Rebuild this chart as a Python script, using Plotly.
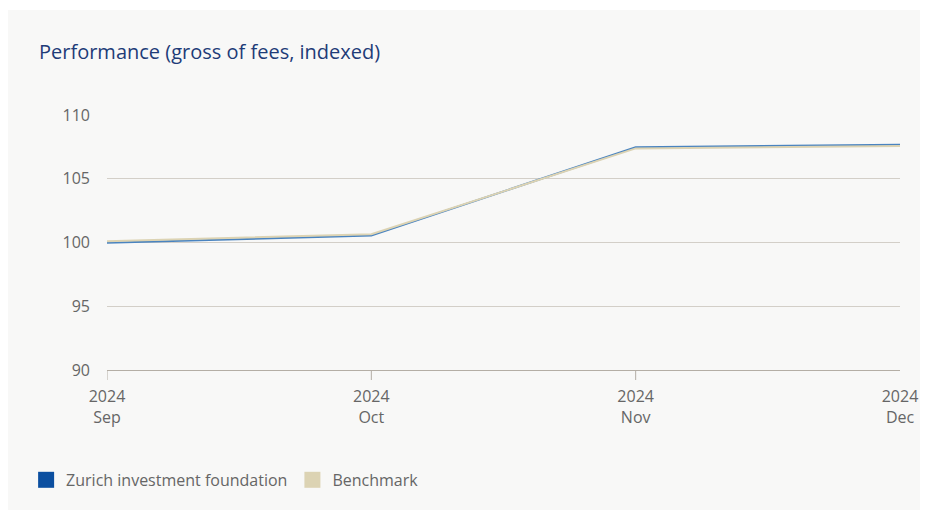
import plotly.graph_objects as go

BLUE = '#0b4fa0'
BLUE_LINE = '#4a84c0'
BEIGE = '#dcd3b3'
TEXT = '#666666'
AXIS = '#b4aea5'
FONT = 'Open Sans'

months = ['Sep', 'Oct', 'Nov', 'Dec']
years = ['2024', '2024', '2024', '2024']
zurich = [99.98, 100.55, 107.47, 107.67]
benchmark = [100.10, 100.65, 107.38, 107.57]

x_labels = [f"{y}<br>{m}" for y, m in zip(years, months)]

# the page body adds an 8px margin, so positions are shifted back by 8px
OFF = 8

fig = go.Figure()

fig.add_trace(go.Scatter(
    x=months, y=zurich,
    mode='lines',
    line=dict(color=BLUE_LINE, width=2),
    showlegend=False,
    name='Zurich investment foundation'
))

fig.add_trace(go.Scatter(
    x=months, y=benchmark,
    mode='lines',
    line=dict(color=BEIGE, width=2),
    showlegend=False,
    name='Benchmark'
))

# legend entries as squares
for name, color in [('Zurich investment foundation', BLUE), ('Benchmark', BEIGE)]:
    fig.add_trace(go.Scatter(
        x=[None], y=[None],
        mode='markers',
        marker=dict(symbol='square', size=16, color=color),
        name=name
    ))

shapes = [dict(
    type='rect', xref='paper', yref='paper',
    x0=(6 - 107) / 793, x1=1.2,
    y0=-1.0, y1=(370 - 10) / 255,
    fillcolor='#f8f8f7', line=dict(width=0), layer='below'
)]
# tick marks (none on the last month)
for m in months[:-1]:
    shapes.append(dict(
        type='line', xref='x', yref='paper',
        x0=m, x1=m, y0=0, y1=-10 / 255,
        line=dict(color=AXIS, width=1)
    ))

fig.update_layout(
    width=928,
    height=510,
    paper_bgcolor='white',
    plot_bgcolor='rgba(0,0,0,0)',
    font=dict(family=FONT, color=TEXT, size=16),
    margin=dict(l=107 - OFF, r=28 + OFF, t=115 - OFF, b=140 + OFF),
    title=dict(
        text='Performance (gross of fees, indexed)',
        font=dict(size=20, color='#1e3c78', family=FONT),
        xref='container', yref='container',
        x=(39 - OFF) / 928, xanchor='left',
        y=1 - (52 - OFF) / 510, yanchor='middle'
    ),
    legend=dict(
        orientation='h',
        x=-0.102, xanchor='left',
        y=-0.431, yanchor='middle',
        font=dict(size=16, color=TEXT),
        bgcolor='rgba(0,0,0,0)',
        itemclick=False
    ),
    shapes=shapes
)

fig.update_xaxes(
    type='category',
    range=[0, 3],
    tickvals=months,
    ticktext=x_labels,
    ticks='',
    ticklabelstandoff=12,
    showline=True,
    linecolor=AXIS,
    linewidth=1,
    showgrid=False,
    zeroline=False,
    tickfont=dict(size=16, color=TEXT)
)

fig.update_yaxes(
    range=[90, 110],
    tickvals=[90, 95, 100, 105, 110],
    showgrid=True,
    gridcolor='#d3cfc8',
    gridwidth=1,
    zeroline=False,
    showline=False,
    ticks='',
    ticklabelstandoff=16,
    tickfont=dict(size=16, color=TEXT)
)

fig.write_html('out.html')
